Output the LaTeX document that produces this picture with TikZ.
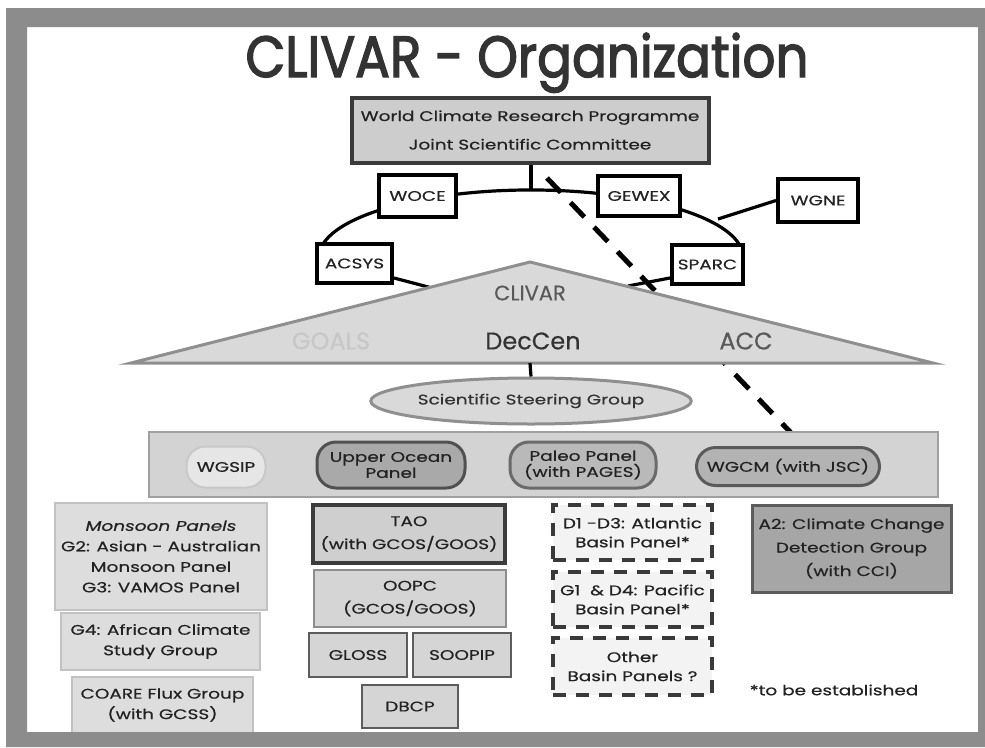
\documentclass[tikz,border=0pt]{standalone}
\usepackage{fontspec}
\setmainfont{Poppins}
\newfontfamily\widef{Poppins}[FakeStretch=1.32, FakeBold=0.5]
\newfontfamily\titlef{Poppins}[FakeBold=2.5]
\newfontfamily\trif{Poppins}[FakeBold=0.4]
\usetikzlibrary{shapes.geometric}
\definecolor{txt}{HTML}{222222}
\definecolor{framegray}{HTML}{8C8C8C}
\definecolor{wcrpfill}{HTML}{CDCDCD}
\definecolor{wcrpdraw}{HTML}{3A3A3A}
\definecolor{trifill}{HTML}{D9D9D9}
\definecolor{tridraw}{HTML}{8F8F8F}
\definecolor{panelfill}{HTML}{D3D3D3}
\definecolor{paneldraw}{HTML}{A0A0A0}
\definecolor{wgsipfill}{HTML}{E6E6E6}
\definecolor{wgsipdraw}{HTML}{C8C8C8}
\definecolor{uopfill}{HTML}{A9A9A9}
\definecolor{uopdraw}{HTML}{505050}
\definecolor{paleofill}{HTML}{B9B9B9}
\definecolor{paleodraw}{HTML}{6A6A6A}
\definecolor{wgcmfill}{HTML}{B3B3B3}
\definecolor{wgcmdraw}{HTML}{5A5A5A}
\definecolor{leftfill}{HTML}{DDDDDD}
\definecolor{leftdraw}{HTML}{C2C2C2}
\definecolor{taofill}{HTML}{CFCFCF}
\definecolor{taodraw}{HTML}{3C3C3C}
\definecolor{midfill}{HTML}{D5D5D5}
\definecolor{middraw}{HTML}{5C5C5C}
\definecolor{dashfill}{HTML}{F3F3F3}
\definecolor{dashdraw}{HTML}{3A3A3A}
\definecolor{afill}{HTML}{A6A6A6}
\definecolor{adraw}{HTML}{5C5C5C}
\newcommand\bodyf{\widef\fontsize{14}{20.5}\selectfont}
\begin{document}
\begin{tikzpicture}[x=1pt,y=-1pt,
  every node/.style={inner sep=0pt, align=center, text=txt, font=\bodyf},
  sz/.style 2 args={minimum width=#1pt, minimum height=#2pt},
  ringbox/.style={rectangle, draw=black, line width=4pt, fill=white, font=\widef\fontsize{14}{16}\selectfont},
  ringline/.style={draw=black, line width=3.2pt},
  jscline/.style={draw=black, line width=5pt, dash pattern=on 20pt off 14pt},
  tri/.style={fill=trifill, draw=tridraw, line width=3pt, line join=miter},
  tritext/.style={font=\trif\fontsize{24}{24}\selectfont, text=#1},
  oval/.style={rectangle, rounded corners=19pt, line width=3pt, font=\widef\fontsize{14}{16}\selectfont},
  leftbox/.style={rectangle, fill=leftfill, draw=leftdraw, line width=2pt},
  midbox/.style={rectangle, fill=midfill, draw=middraw, line width=2.5pt},
  dashbox/.style={rectangle, fill=dashfill, draw=dashdraw, line width=4pt, dash pattern=on 13pt off 10pt, font=\widef\fontsize{14}{19}\selectfont},
]
\useasboundingbox (0,0) rectangle (985,747);
\fill[white] (0,0) rectangle (985,747);

% connector coordinates
\coordinate (ringtop) at (531,190);
\coordinate (ringstart) at (322.9,244.2);
\coordinate (wgnejoin) at (718,219);
\coordinate (dstart) at (547,178);
\coordinate (dend) at (795,437);
\coordinate (acsystri) at (432,288);
\coordinate (sparctri) at (628,286);
\coordinate (tribase) at (530,363);

% dashed link WCRP - WGCM
\draw[jscline] (dstart) -- (dend);

% ring
\draw[ringline] (ringstart) arc[start angle=169, end angle=11, x radius=212pt, y radius=67pt];

% boxes on ring
\node[rectangle, draw=wcrpdraw, fill=wcrpfill, line width=4pt, sz={357}{65}, font=\widef\fontsize{14}{28.5}\selectfont] (wcrp) at (530,130) {World Climate Research Programme\\Joint Scientific Committee};
\draw[ringline] (wcrp.south -| ringtop) -- (ringtop);
\node[ringbox, sz={77}{42}] (woce) at (417.5,196) {WOCE};
\node[ringbox, sz={82}{40}] (gewex) at (639,196) {GEWEX};
\node[ringbox, sz={75}{39}] (acsys) at (354.5,263.5) {ACSYS};
\node[ringbox, sz={71}{39}] (sparc) at (707.5,264.5) {SPARC};
\node[ringbox, sz={80}{43}] (wgne) at (818,200.5) {WGNE};
\draw[ringline] (wgnejoin) -- (wgne.west);
\draw[ringline] (acsys.east |- 0,278) -- (acsystri);
\draw[ringline] (sparc.west |- 0,278) -- (sparctri);

% CLIVAR triangle
\draw[tri] (131,363) -- (530,262) -- (933,363) -- cycle;
\node[font=\trif\fontsize{21}{21}\selectfont, text=black!65] (clivar) at (530,293) {CLIVAR};
\node[tritext=black!22] (goals) at (331,341) {GOALS};
\node[tritext=black!80] (deccen) at (533,341) {DecCen};
\node[tritext=black!65] (acc) at (746,341) {ACC};

% Scientific Steering Group
\node[ellipse, fill=trifill, draw=tridraw, line width=3pt, minimum width=313pt, minimum height=46pt, text=black!80] (ssg) at (531,401) {Scientific Steering Group};
\draw[ringline] (tribase) -- (ssg.north);

% panel row
\node[rectangle, fill=panelfill, draw=paneldraw, line width=2pt, sz={789}{65}] (panels) at (543.5,464.5) {};
\node[oval, fill=wgsipfill, draw=wgsipdraw, line width=2pt, sz={79}{41}] (wgsip) at (226,467) {WGSIP};
\node[oval, fill=uopfill, draw=uopdraw, sz={148}{46}] (uop) at (391,465) {Upper Ocean\\Panel};
\node[oval, fill=paleofill, draw=paleodraw, sz={146}{46}] (paleo) at (583,465) {Paleo Panel\\(with PAGES)};
\node[oval, fill=wgcmfill, draw=wgcmdraw, sz={183}{38}] (wgcm) at (788,466.5) {WGCM (with JSC)};

% left column
\node[leftbox, sz={212}{107}] (monsoon) at (161,556.5) {\textit{Monsoon Panels}\\G2: Asian - Australian\\Monsoon Panel\\G3: VAMOS Panel};
\node[leftbox, sz={199}{57}] (gfour) at (160.5,641.5) {G4: African Climate\\Study Group};
\node[leftbox, sz={181}{56}] (coare) at (162.5,705) {COARE Flux Group\\(with GCSS)};

% middle column
\node[rectangle, fill=taofill, draw=taodraw, line width=4pt, sz={192}{58}, font=\widef\fontsize{14}{23}\selectfont] (tao) at (409,534) {TAO\\(with GCOS/GOOS)};
\node[midbox, draw=middraw!70, sz={192}{57}, font=\widef\fontsize{14}{23}\selectfont] (oopc) at (410,598.5) {OOPC\\(GCOS/GOOS)};
\node[midbox, sz={98}{44}] (gloss) at (358,655) {GLOSS};
\node[midbox, sz={98}{44}] (soopip) at (462,655) {SOOPIP};
\node[midbox, sz={96}{43}] (dbcp) at (410,706.5) {DBCP};

% right column
\node[dashbox, sz={159}{55}] (atl) at (632.5,532.5) {D1 -D3: Atlantic\\Basin Panel*};
\node[dashbox, sz={159}{55}] (pac) at (632.5,599.5) {G1 \ \& D4: Pacific\\Basin Panel*};
\node[dashbox, sz={159}{57}] (other) at (632.5,666.5) {Other\\Basin Panels ?};
\node[rectangle, fill=afill, draw=adraw, line width=3pt, sz={199}{87}, font=\widef\fontsize{14}{23.5}\selectfont] (atwo) at (851.5,548.5) {A2: Climate Change\\Detection Group\\(with CCI)};
\node (note) at (834,690) {*to be established};

% frame
\fill[framegray, even odd rule] (6,8) rectangle (985,747) (27,27) rectangle (978,732);

% title
\node[anchor=base, font=\titlef\fontsize{58}{58}\selectfont, text=black!80] (title) at (527,77) {\resizebox{563pt}{\height}{CLIVAR - Organization}};
\end{tikzpicture}
\end{document}
